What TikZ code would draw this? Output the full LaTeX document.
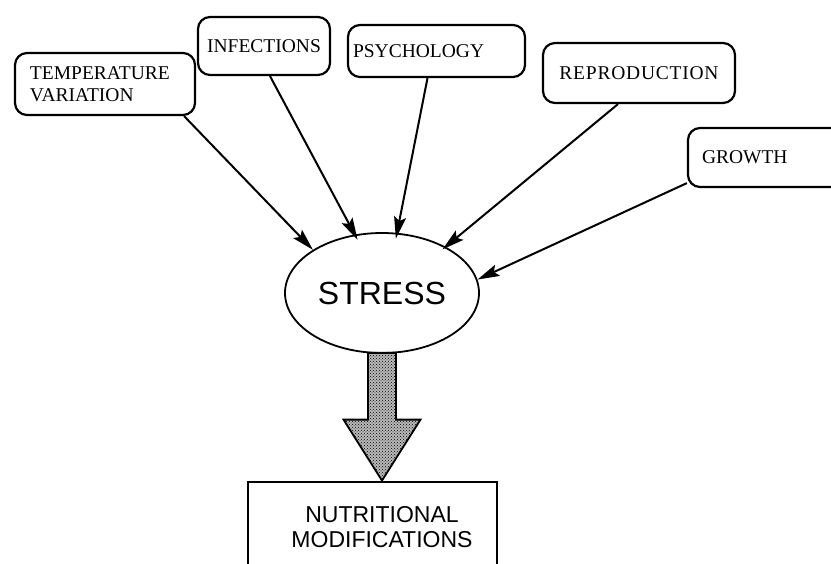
\documentclass[tikz,border=0pt]{standalone}
\usepackage{fontspec}
\setmainfont{Liberation Serif}
\newfontfamily\sansf{Liberation Sans}
\usetikzlibrary{arrows.meta,shapes.geometric,calc,patterns}
\begin{document}
\begin{tikzpicture}[x=1pt,y=-1pt,
  factor/.style={draw,line width=2.2pt,rounded corners=12pt,inner sep=0pt,
    font=\fontsize{19.5}{22}\selectfont},
  feed/.style={line width=2pt,-{Stealth[length=22pt,width=12pt,inset=4pt]}},
  bigarrow/.style={draw,line width=1.8pt,preaction={fill=gray!55},
    pattern=crosshatch dots,pattern color=black}]
\useasboundingbox (0,0) rectangle (831,564);
\clip (0,0) rectangle (831,564);

% stress factors
\node[factor,minimum width=180pt,minimum height=62pt,text width=150pt,align=left]
  (temp) at (105,84) {TEMPERATURE\\VARIATION};
\node[factor,minimum width=132pt,minimum height=58pt] (infect) at (264,46) {INFECTIONS};
\node[factor,minimum width=177pt,minimum height=52pt,text width=167pt,align=left]
  (psych) at (436.5,51) {PSYCHOLOGY};
\node[factor,minimum width=192pt,minimum height=60pt]
  (repro) at (639,73) {\addfontfeature{LetterSpace=4}REPRODUCTION};
\node[factor,minimum width=172pt,minimum height=59pt,text width=144pt,align=left]
  (growth) at (774,157.5) {GROWTH};

% central ellipse
\node[ellipse,draw,line width=1.8pt,minimum width=194pt,minimum height=120pt,inner sep=0pt,
  font=\sansf\fontsize{32}{36}\selectfont] (stress) at (382,293) {STRESS};

% outcome box
\node[draw,line width=2.8pt,minimum width=249pt,minimum height=118pt,inner sep=0pt]
  (nutr) at (372.5,541) {};
\node[align=center,inner sep=0pt,font=\sansf\fontsize{23}{25}\selectfont]
  (nutrtext) at (382,527) {NUTRITIONAL\\MODIFICATIONS};

% arrows into stress
\draw[feed] ([xshift=-12pt]temp.south east) -- (stress.148);
\draw[feed,shorten >=-6pt] ([xshift=6pt]infect.south) -- (stress.115);
\draw[feed,shorten >=-6pt] ([xshift=-9pt]psych.south) -- (stress.76);
\draw[feed,shorten >=-4pt] ([xshift=-21pt]repro.south) -- (stress.36);
\draw[feed] ([yshift=5pt]growth.south west) -- (stress.8);

% broad arrow from stress to outcome
\path[bigarrow]
  ($(stress.south)+(-14,-1)$) -- ($(stress.south)+(14,-1)$)
  -- ($(stress.south |- nutr.north)+(14,-61)$)
  -- ($(stress.south |- nutr.north)+(38.5,-61)$)
  -- (stress.south |- nutr.north)
  -- ($(stress.south |- nutr.north)+(-38.5,-61)$)
  -- ($(stress.south |- nutr.north)+(-14,-61)$) -- cycle;
\end{tikzpicture}
\end{document}
